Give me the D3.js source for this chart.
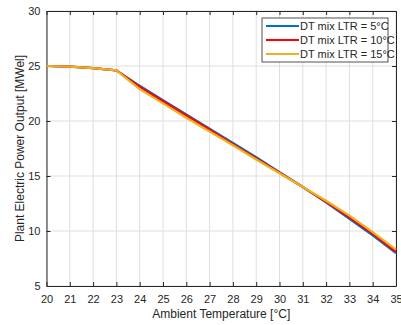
<!DOCTYPE html>
<meta charset="utf-8">
<style>
body { margin: 0; background: #fff; }
text { font-family: "Liberation Sans", Arial, sans-serif; fill: #262626; }
.grid line { stroke: #dfdfdf; stroke-width: 1; }
.axis path, .axis line { stroke: #262626; }
</style>
<svg width="401" height="325"></svg>
<script src="https://d3js.org/d3.v7.min.js"></script>
<script>

var temps = [20, 21, 22, 23, 24, 25, 26, 27, 28, 29, 30, 31, 32, 33, 34, 35];
var ltr5  = [25.0, 24.95, 24.8, 24.6, 23.2, 21.9, 20.6, 19.3, 18.0, 16.7, 15.35, 14.0, 12.6, 11.1, 9.6, 8.0];
var ltr10 = [25.0, 24.95, 24.8, 24.6, 23.1, 21.8, 20.5, 19.2, 17.9, 16.6, 15.3, 14.0, 12.65, 11.25, 9.75, 8.1];
var ltr15 = [25.0, 24.95, 24.8, 24.6, 22.9, 21.6, 20.3, 19.05, 17.8, 16.5, 15.25, 14.0, 12.75, 11.4, 9.9, 8.3];
var seriesNames = ["DT mix LTR = 5°C", "DT mix LTR = 10°C", "DT mix LTR = 15°C"];
var seriesColors = ["#0072bd", "#ff0000", "#edb120"];
var xTicks = d3.range(20, 36, 1);
var yTicks = [5, 10, 15, 20, 25, 30];

var svg = d3.select("svg"),
    plotL = 46.5, plotR = 396, plotT = 11, plotB = 286;

var x = d3.scaleLinear().domain([20, 35]).range([plotL, plotR]);
var y = d3.scaleLinear().domain([5, 30]).range([plotB, plotT]);

// grid
var grid = svg.append("g").attr("class", "grid");
grid.selectAll(".gx").data(xTicks).enter().append("line")
    .attr("x1", d => x(d)).attr("x2", d => x(d))
    .attr("y1", plotT).attr("y2", plotB);
grid.selectAll(".gy").data(yTicks).enter().append("line")
    .attr("x1", plotL).attr("x2", plotR)
    .attr("y1", d => y(d)).attr("y2", d => y(d));

// axes (box with ticks on all sides)
svg.append("g").attr("class", "axis")
    .attr("transform", "translate(0," + plotB + ")")
    .call(d3.axisBottom(x).tickValues(xTicks).tickSize(-4).tickPadding(9).tickSizeOuter(0))
    .selectAll("text").style("font-size", "11px");
svg.append("g").attr("class", "axis")
    .attr("transform", "translate(0," + plotT + ")")
    .call(d3.axisTop(x).tickValues(xTicks).tickSize(-4).tickFormat("").tickSizeOuter(0));
svg.append("g").attr("class", "axis")
    .attr("transform", "translate(" + plotL + ",0)")
    .call(d3.axisLeft(y).tickValues(yTicks).tickSize(-4).tickPadding(6).tickSizeOuter(0))
    .selectAll("text").style("font-size", "11px");
svg.append("g").attr("class", "axis")
    .attr("transform", "translate(" + plotR + ",0)")
    .call(d3.axisRight(y).tickValues(yTicks).tickSize(-4).tickFormat("").tickSizeOuter(0));
svg.selectAll(".axis text").attr("fill", "#262626");

// lines
var series = [ltr5, ltr10, ltr15];
var line = d3.line().x((d, i) => x(temps[i])).y(d => y(d));
svg.append("g").selectAll("path").data(series).enter().append("path")
    .attr("d", line)
    .attr("fill", "none")
    .attr("stroke", (d, i) => seriesColors[i])
    .attr("stroke-width", 2.2)
    .attr("stroke-linejoin", "round");

// axis labels
svg.append("text")
    .attr("x", (plotL + plotR) / 2).attr("y", 318)
    .attr("text-anchor", "middle")
    .style("font-size", "12px")
    .text("Ambient Temperature [°C]");
svg.append("text")
    .attr("transform", "translate(24," + (plotT + plotB) / 2 + ") rotate(-90)")
    .attr("text-anchor", "middle")
    .style("font-size", "12px")
    .text("Plant Electric Power Output [MWel]");

// legend
var lg = svg.append("g").attr("transform", "translate(262,18)");
lg.append("rect").attr("width", 126).attr("height", 44)
    .attr("fill", "#fff").attr("stroke", "#262626").attr("stroke-width", 0.8);
seriesNames.forEach(function(name, i) {
  var ly = 8 + i * 14;
  lg.append("line").attr("x1", 4).attr("x2", 37).attr("y1", ly).attr("y2", ly)
      .attr("stroke", seriesColors[i]).attr("stroke-width", 2);
  lg.append("text").attr("x", 38).attr("y", ly + 4)
      .style("font-size", "11px").text(name);
});

</script>
